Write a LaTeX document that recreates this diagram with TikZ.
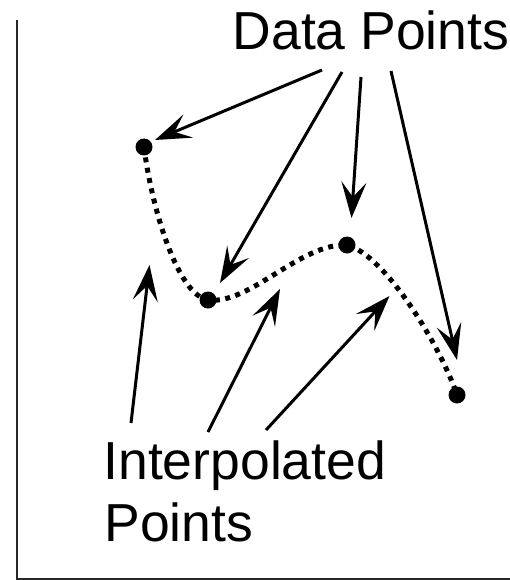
\documentclass[tikz,border=0pt]{standalone}
\usepackage{fontspec}
\setmainfont{Liberation Sans}
\usetikzlibrary{arrows.meta}
\begin{document}
\begin{tikzpicture}[x=1pt,y=-1pt,
  axisline/.style={line width=2pt, draw=black!85},
  lbl/.style={inner sep=0pt, anchor=base west, font=\fontsize{53.5}{62}\selectfont},
  datapt/.style={circle, fill=black, inner sep=0pt, minimum size=17pt},
  curve/.style={line width=5pt, dash pattern=on 5pt off 5.5pt, line cap=butt},
  pointer/.style={line width=3pt, -{Stealth[length=36pt, width=25pt, inset=15pt]}}]
\useasboundingbox (0,0) rectangle (510,580);
% axes
\draw[axisline] (17,20) -- (17,579) -- (510,579);
% labels
\node[lbl] (dp) at (232.5,50) {Data Points};
\node[lbl] (ip1) at (103.3,479) {Interpolated};
\node[lbl] (ip2) at (104.2,541) {Points};
% interpolating curve
\coordinate (p1) at (144,147);
\coordinate (p2) at (208,300);
\coordinate (p3) at (347,245);
\coordinate (p4) at (457,395);
\draw[curve] (p1) .. controls (152,210) and (178,295) .. (p2)
  .. controls (250,305) and (300,243) .. (p3)
  .. controls (385,255) and (440,345) .. (p4);
% data points
\node[datapt] (d1) at (p1) {};
\node[datapt] (d2) at (p2) {};
\node[datapt] (d3) at (p3) {};
\node[datapt] (d4) at (p4) {};
% arrow coordinates
\coordinate (a1s) at (322,70);
\coordinate (a1e) at (155,140);
\coordinate (a2s) at (342,72);
\coordinate (a2e) at (220,283);
\coordinate (a3s) at (361,77);
\coordinate (a3e) at (351.5,218);
\coordinate (a4s) at (391,71);
\coordinate (a4e) at (457,360);
\coordinate (b1s) at (131,423);
\coordinate (b1e) at (149.5,265);
\coordinate (b2s) at (208,432);
\coordinate (b2e) at (280,289);
\coordinate (b3s) at (266,430);
\coordinate (b3e) at (389.5,296);
% arrows to data points
\draw[pointer] (a1s) -- (a1e);
\draw[pointer] (a2s) -- (a2e);
\draw[pointer] (a3s) -- (a3e);
\draw[pointer] (a4s) -- (a4e);
% arrows to interpolated points
\draw[pointer] (b1s) -- (b1e);
\draw[pointer] (b2s) -- (b2e);
\draw[pointer] (b3s) -- (b3e);
\end{tikzpicture}
\end{document}
